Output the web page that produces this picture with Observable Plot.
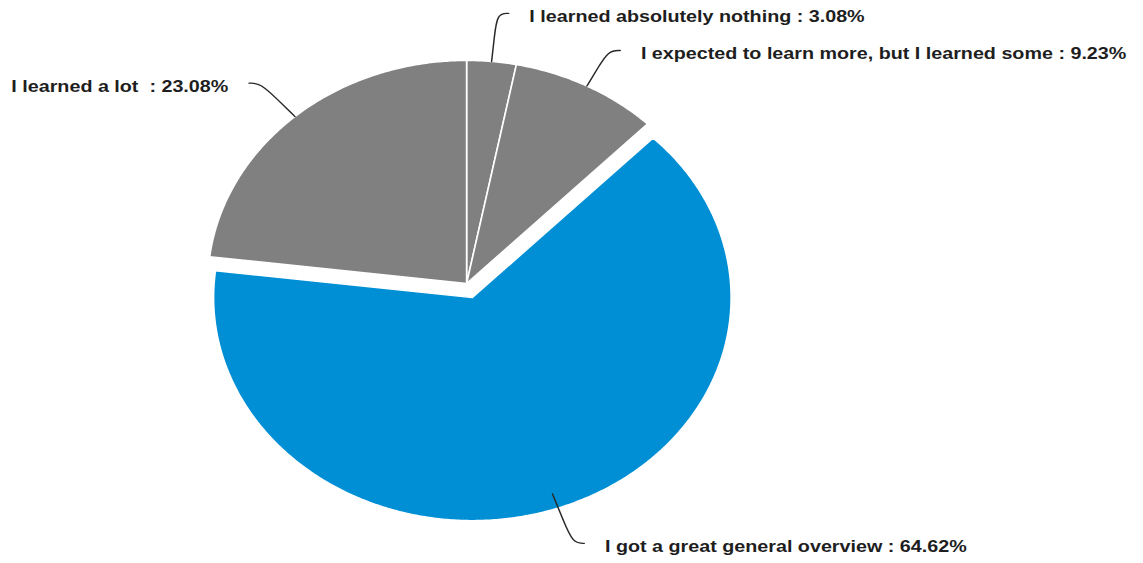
<!DOCTYPE html>
<html>
<head>
<meta charset="utf-8">
<script src="https://cdn.jsdelivr.net/npm/d3@7"></script>
<script src="https://cdn.jsdelivr.net/npm/@observablehq/plot@0.6"></script>
<style>
  html, body { margin: 0; padding: 0; background: #fff; overflow: hidden; }
  svg text { white-space: pre; }
</style>
</head>
<body>
<div id="chart"></div>
<script>
// ---- data (clockwise from 12 o'clock) ----
const categories = [
  "I learned absolutely nothing",
  "I expected to learn more, but I learned some",
  "I got a great general overview",
  "I learned a lot "
];
const values = [3.08, 9.23, 64.62, 23.08];
const sliceColors = ["#808080", "#808080", "#008fd5", "#808080"];
const exploded = [false, false, true, false];

// ---- layout (drawn in an unstretched frame, then stretched horizontally like the original) ----
const W = 985, H = 563, OUT_W = 1143;
const CX = 401.6, CY = 283, R = 223;
const EXPLODE = 0.067, R_START = 1.0, HOOK = 0.045, GAP = 0.08;
const leaderReach = [1.217, 1.18, 1.235, 1.2]; // relative radius of each leader's elbow

const arcs = d3.pie().sort(null).value(d => d.value)(
  categories.map((c, i) => ({category: c, value: values[i], color: sliceColors[i], exploded: exploded[i]}))
);

const sliceRows = [];
const leaderRows = [];
const labelRows = [];
arcs.forEach((a, i) => {
  const mid = (a.startAngle + a.endAngle) / 2;
  const ox = a.data.exploded ? EXPLODE * Math.sin(mid) : 0;
  const oy = a.data.exploded ? EXPLODE * Math.cos(mid) : 0;
  // slice polygon
  sliceRows.push({slice: i, x: ox, y: oy, color: a.data.color});
  const n = Math.max(2, Math.ceil((a.endAngle - a.startAngle) / (Math.PI / 360)));
  for (let k = 0; k <= n; k++) {
    const t = a.startAngle + (a.endAngle - a.startAngle) * k / n;
    sliceRows.push({slice: i, x: ox + Math.sin(t), y: oy + Math.cos(t), color: a.data.color});
  }
  sliceRows.push({slice: i, x: ox, y: oy, color: a.data.color});
  // leader line
  const side = Math.sin(mid) >= 0 ? 1 : -1;
  const rc = leaderReach[i];
  const sx = R_START * Math.sin(mid), sy = R_START * Math.cos(mid);
  const cx = rc * Math.sin(mid), cy = rc * Math.cos(mid);
  const mx = (sx + cx) / 2, my = (sy + cy) / 2;
  const ex = cx + side * HOOK, ey = cy;
  [[sx, sy], [mx, my], [cx, cy], [ex, ey]].forEach(([x, y]) => leaderRows.push({slice: i, x, y}));
  // label
  labelRows.push({
    x: ex + side * GAP, y: ey, side,
    text: `${a.data.category} : ${a.data.value.toFixed(2)}%`
  });
});

const textStyle = {fontSize: 17, fontWeight: "bold", fill: "#1e1e1e", dy: 3};

const chart = Plot.plot({
  width: W,
  height: H,
  margin: 0,
  x: {domain: [-1, 1], range: [CX - R, CX + R], axis: null},
  y: {domain: [-1, 1], range: [CY + R, CY - R], axis: null},
  color: {type: "identity"},
  style: {fontFamily: "'Liberation Sans', Arial, sans-serif", background: "#fff"},
  marks: [
    Plot.line(sliceRows, {x: "x", y: "y", z: "slice", fill: "color", stroke: "#fff", strokeWidth: 1.4, curve: "linear"}),
    Plot.line(leaderRows, {x: "x", y: "y", z: "slice", stroke: "#2a2a2a", strokeWidth: 1.3, curve: "basis"}),
    Plot.text(labelRows.filter(d => d.side > 0), {x: "x", y: "y", text: "text", textAnchor: "start", ...textStyle}),
    Plot.text(labelRows.filter(d => d.side < 0), {x: "x", y: "y", text: "text", textAnchor: "end", ...textStyle})
  ]
});

// stretch horizontally to the original's aspect
chart.setAttribute("width", OUT_W);
chart.setAttribute("preserveAspectRatio", "none");
chart.style.width = OUT_W + "px";
chart.style.height = H + "px";
chart.style.maxWidth = "none";
document.getElementById("chart").appendChild(chart);
</script>
</body>
</html>
